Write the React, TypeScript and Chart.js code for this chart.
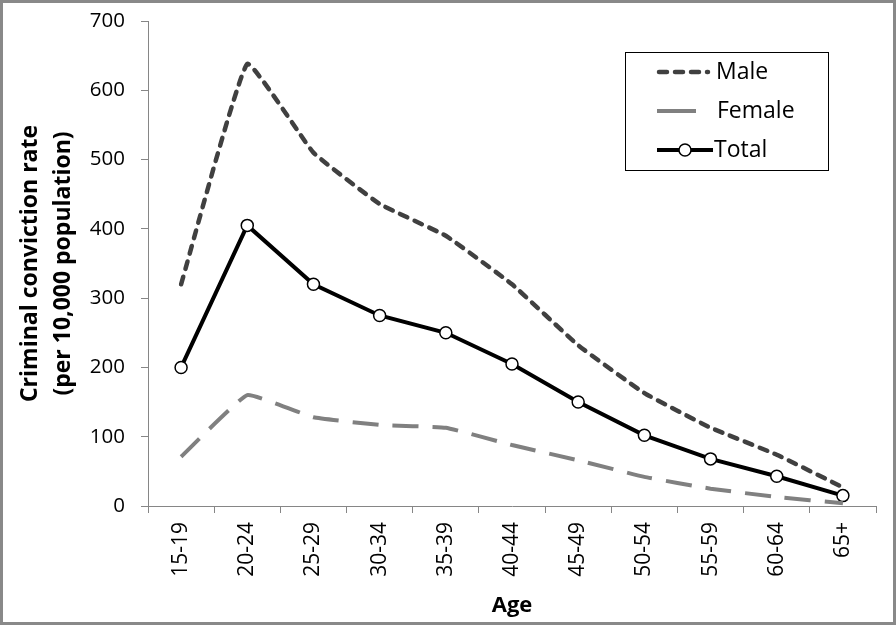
import React, { useEffect, useRef } from "react";
import { Chart, registerables } from "chart.js";

Chart.register(...registerables);

const categories = ["15-19", "20-24", "25-29", "30-34", "35-39", "40-44", "45-49", "50-54", "55-59", "60-64", "65+"];
const maleValues = [320, 638, 510, 436, 390, 320, 232, 163, 113, 74, 27];
const femaleValues = [71, 160, 128, 117, 113, 88, 66, 42, 25, 13, 4];
const totalValues = [200, 405, 320, 275, 250, 205, 150, 102, 68, 43, 15];
const yTicks = [0, 100, 200, 300, 400, 500, 600, 700];
const seriesNames = ["Male", "Female", "Total"];

const FONT = "'Open Sans', Lato, sans-serif";
const AXIS = "#868686";

const frameAndLegend = {
  id: "frameAndLegend",
  afterDraw(chart: any) {
    const ctx = chart.ctx;
    ctx.save();
    ctx.strokeStyle = "#898989";
    ctx.lineWidth = 3;
    ctx.strokeRect(1.5, 1.5, chart.width - 3, chart.height - 3);
    const bx = 625, by = 52, bw = 203, bh = 118;
    ctx.fillStyle = "#ffffff";
    ctx.fillRect(bx, by, bw, bh);
    ctx.strokeStyle = "#000000";
    ctx.lineWidth = 1;
    ctx.strokeRect(bx + 0.5, by + 0.5, bw, bh);
    const ds = chart.data.datasets;
    const rows = [72, 111, 150];
    ctx.font = `23px ${FONT}`;
    ctx.textBaseline = "middle";
    ctx.textAlign = "left";
    ctx.beginPath();
    ctx.strokeStyle = ds[0].borderColor;
    ctx.lineWidth = 4.5;
    ctx.lineCap = "round";
    ctx.setLineDash([8, 8]);
    ctx.moveTo(659, rows[0]);
    ctx.lineTo(708, rows[0]);
    ctx.stroke();
    ctx.lineCap = "butt";
    ctx.beginPath();
    ctx.strokeStyle = ds[1].borderColor;
    ctx.lineWidth = 4;
    ctx.setLineDash([]);
    ctx.moveTo(657, rows[1]);
    ctx.lineTo(696, rows[1]);
    ctx.stroke();
    ctx.beginPath();
    ctx.strokeStyle = ds[2].borderColor;
    ctx.moveTo(657, rows[2]);
    ctx.lineTo(713, rows[2]);
    ctx.stroke();
    ctx.beginPath();
    ctx.arc(685, rows[2], 6, 0, Math.PI * 2);
    ctx.fillStyle = "#ffffff";
    ctx.fill();
    ctx.lineWidth = 1.5;
    ctx.strokeStyle = "#000000";
    ctx.stroke();
    ctx.fillStyle = "#000000";
    ctx.fillText(ds[0].label, 716, rows[0]);
    ctx.fillText(ds[1].label, 717, rows[1]);
    ctx.fillText(ds[2].label, 714, rows[2]);
    ctx.restore();
  },
};

export default function App() {
  const ref = useRef<HTMLCanvasElement | null>(null);
  useEffect(() => {
    document.body.style.margin = "0";
    const chart = new Chart(ref.current as HTMLCanvasElement, {
      type: "line",
      data: {
        labels: categories,
        datasets: [
          {
            label: seriesNames[0],
            data: maleValues,
            borderColor: "#404040",
            borderWidth: 4.5,
            borderDash: [8, 8],
            borderCapStyle: "round",
            pointRadius: 0,
            tension: 0.1,
            fill: false,
          },
          {
            label: seriesNames[1],
            data: femaleValues,
            borderColor: "#808080",
            borderWidth: 4,
            borderDash: [26, 14],
            pointRadius: 0,
            tension: 0.1,
            fill: false,
          },
          {
            label: seriesNames[2],
            data: totalValues,
            borderColor: "#000000",
            borderWidth: 4,
            pointRadius: 6,
            pointBackgroundColor: "#ffffff",
            pointBorderColor: "#000000",
            pointBorderWidth: 1.5,
            tension: 0,
            fill: false,
          },
        ],
      },
      options: {
        animation: false,
        responsive: false,
        maintainAspectRatio: false,
        layout: { padding: { top: 21, right: 20, bottom: 0, left: 0 } },
        plugins: { legend: { display: false }, tooltip: { enabled: false } },
        scales: {
          x: {
            type: "category",
            offset: true,
            grid: { drawOnChartArea: false, drawTicks: true, tickLength: 7, color: AXIS, offset: true },
            border: { display: true, color: AXIS, width: 1 },
            ticks: {
              color: "#000000",
              font: { family: FONT, size: 21 },
              minRotation: 90,
              maxRotation: 90,
              padding: 9,
            },
            title: {
              display: true,
              text: "Age",
              color: "#000000",
              font: { family: FONT, size: 22, weight: "bold" },
              padding: { top: 2, bottom: 6 },
            },
            afterFit(scale: any) {
              scale.height = 119;
              scale.paddingLeft = 0;
              scale.paddingRight = 0;
            },
          },
          y: {
            min: 0,
            max: 700,
            afterBuildTicks(scale: any) {
              scale.ticks = yTicks.map((v) => ({ value: v }));
            },
            grid: { drawOnChartArea: false, drawTicks: true, tickLength: 7, color: AXIS },
            border: { display: true, color: AXIS, width: 1 },
            ticks: {
              color: "#000000",
              font: { family: FONT, size: 20.5 },
              padding: 16,
            },
            title: {
              display: true,
              text: ["Criminal conviction rate", "(per 10,000 population)"],
              color: "#000000",
              font: { family: FONT, size: 23, weight: "bold", lineHeight: 1.43 },
              padding: { top: 14, bottom: 0 },
            },
            afterFit(scale: any) {
              scale.width = 148;
              scale.paddingTop = 0;
              scale.paddingBottom = 0;
            },
          },
        },
      },
      plugins: [frameAndLegend],
    } as any);
    return () => chart.destroy();
  }, []);
  return (
    <div style={{ position: "absolute", left: 0, top: 0, width: 896, height: 625, background: "#ffffff" }}>
      <canvas ref={ref} width={896} height={625} style={{ width: 896, height: 625 }} />
    </div>
  );
}
